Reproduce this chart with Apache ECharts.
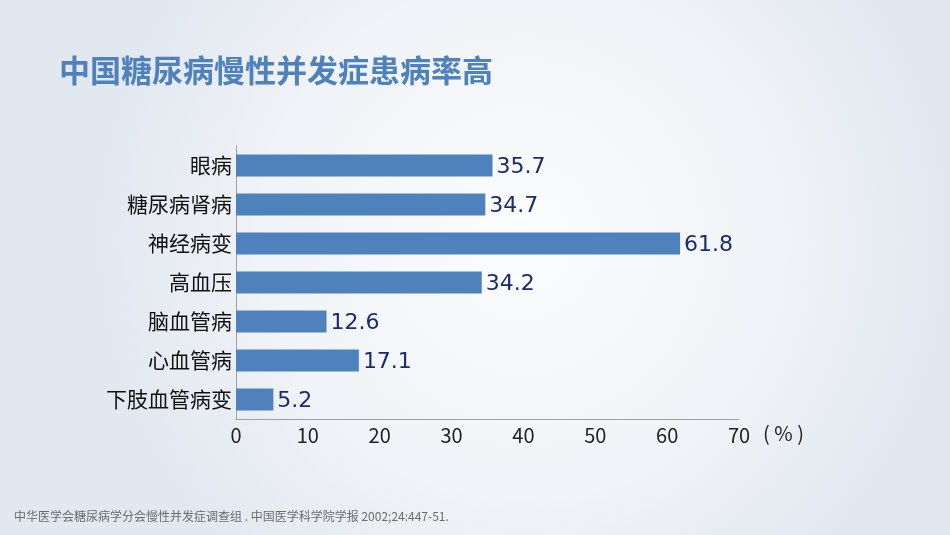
<!DOCTYPE html>
<html>
<head>
<meta charset="utf-8">
<script src="https://cdn.jsdelivr.net/npm/echarts@6/dist/echarts.min.js"></script>
<style>
html, body { margin: 0; padding: 0; }
#main { width: 950px; height: 535px; }
</style>
</head>
<body>
<div id="main"></div>
<script>
var categories = ['眼病', '糖尿病肾病', '神经病变', '高血压', '脑血管病', '心血管病', '下肢血管病变'];
var values = [35.7, 34.7, 61.8, 34.2, 12.6, 17.1, 5.2];
var xTicks = [0, 10, 20, 30, 40, 50, 60, 70];

var myChart = echarts.init(document.getElementById('main'));
var cjk = '"Noto Sans CJK SC", "Noto Sans", sans-serif';
var option = {
    backgroundColor: new echarts.graphic.RadialGradient(0.55, 0.45, 0.8, [
        {offset: 0, color: '#fbfcfd'},
        {offset: 0.6, color: '#f0f3f7'},
        {offset: 1, color: '#e2e8f0'}
    ]),
    title: {
        text: '中国糖尿病慢性并发症患病率高',
        left: 54,
        top: 50,
        textStyle: {
            color: '#4f81bd',
            fontSize: 31,
            fontWeight: 'bold',
            fontFamily: cjk
        }
    },
    graphic: [{
        type: 'text',
        left: 14,
        top: 510,
        style: {
            text: '中华医学会糖尿病学分会慢性并发症调查组 . 中国医学科学院学报 2002;24:447-51.',
            fill: '#6b6b6b',
            fontSize: 12,
            fontFamily: cjk
        }
    }],
    grid: {
        left: 236,
        right: 211,
        top: 146,
        bottom: 116,
        containLabel: false
    },
    xAxis: {
        type: 'value',
        min: 0,
        max: 70,
        interval: 10,
        name: '( % )',
        nameLocation: 'end',
        nameGap: 24,
        nameTextStyle: {
            color: '#222',
            fontSize: 20,
            fontFamily: cjk,
            align: 'left',
            verticalAlign: 'top',
            padding: [4, 0, 0, 0]
        },
        axisLine: {show: true, lineStyle: {color: '#a0a0a0', width: 1}},
        axisTick: {show: false},
        splitLine: {show: false},
        axisLabel: {
            color: '#222',
            fontSize: 20,
            fontFamily: cjk,
            margin: 6,
            formatter: function (v) { return xTicks.indexOf(v) >= 0 ? String(v) : ''; }
        }
    },
    yAxis: {
        type: 'category',
        data: categories,
        inverse: true,
        axisLine: {show: true, lineStyle: {color: '#a0a0a0', width: 1}},
        axisTick: {show: false},
        axisLabel: {
            color: '#111',
            fontSize: 21,
            fontFamily: cjk,
            margin: 4
        }
    },
    series: [{
        type: 'bar',
        data: values,
        barWidth: 22,
        itemStyle: {color: '#4f81bd'},
        label: {
            show: true,
            position: 'right',
            distance: 4,
            offset: [0, 2],
            color: '#1b2b6b',
            fontSize: 22,
            fontFamily: '"DejaVu Sans", sans-serif'
        }
    }]
};
myChart.setOption(option);
window.onresize = function () {
    myChart.resize();
};
</script>
</body>
</html>
